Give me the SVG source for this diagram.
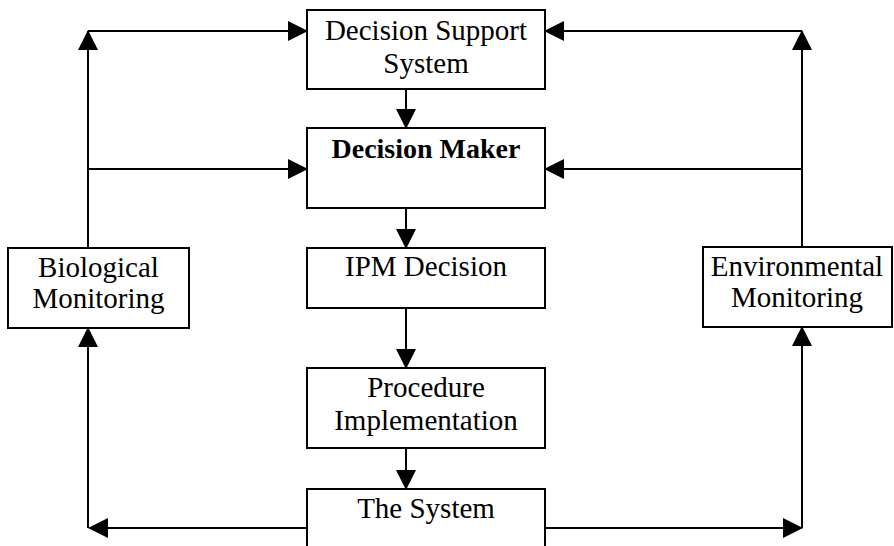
<svg xmlns="http://www.w3.org/2000/svg" width="894" height="546" viewBox="0 0 894 546">
<style>
  .box { fill: #fff; stroke: #000; stroke-width: 2; }
  .t { font-family: "Liberation Serif", "Times New Roman", serif; font-size: 29px; fill: #000; text-anchor: middle; }
  .b { font-weight: bold; font-size: 28px; }
  .c { fill: none; stroke: #000; stroke-width: 2; marker-end: url(#arr); }
</style>
<defs>
  <marker id="arr" viewBox="0 0 20 20" refX="19" refY="10" markerWidth="20" markerHeight="20" markerUnits="userSpaceOnUse" orient="auto">
    <path d="M0,0 L20,10 L0,20 z" fill="#000"/>
  </marker>
</defs>
<rect width="894" height="546" fill="#fff"/>
<g id="connectors">
  <path class="c" d="M406,89 V128"/>
  <path class="c" d="M406,208 V248"/>
  <path class="c" d="M406,308 V368"/>
  <path class="c" d="M406,448 V489"/>
  <path class="c" d="M88,248 V31"/>
  <path class="c" d="M88,31 H307"/>
  <path class="c" d="M88,169 H307"/>
  <path class="c" d="M307,528 H89"/>
  <path class="c" d="M88,528 V328"/>
  <path class="c" d="M802,247 V31"/>
  <path class="c" d="M802,31 H545"/>
  <path class="c" d="M802,169 H545"/>
  <path class="c" d="M545,528 H802"/>
  <path class="c" d="M802,528 V327"/>
</g>
<g id="dss">
  <rect class="box" x="307" y="10" width="238" height="79"/>
  <text class="t" x="426" y="40">Decision Support</text>
  <text class="t" x="426" y="73">System</text>
</g>
<g id="dm">
  <rect class="box" x="307" y="128" width="238" height="80"/>
  <text class="t b" x="426" y="158">Decision Maker</text>
</g>
<g id="ipm">
  <rect class="box" x="307" y="248" width="238" height="60"/>
  <text class="t" x="426" y="276">IPM Decision</text>
</g>
<g id="proc">
  <rect class="box" x="307" y="368" width="238" height="80"/>
  <text class="t" x="426" y="397">Procedure</text>
  <text class="t" x="426" y="430">Implementation</text>
</g>
<g id="system">
  <rect class="box" x="307" y="489" width="238" height="70"/>
  <text class="t" x="426" y="518">The System</text>
</g>
<g id="bio">
  <rect class="box" x="8" y="248" width="181" height="80"/>
  <text class="t" x="98.5" y="277">Biological</text>
  <text class="t" x="98.5" y="308">Monitoring</text>
</g>
<g id="env">
  <rect class="box" x="703" y="247" width="189" height="80"/>
  <text class="t" x="797" y="276">Environmental</text>
  <text class="t" x="797" y="307">Monitoring</text>
</g>
</svg>
